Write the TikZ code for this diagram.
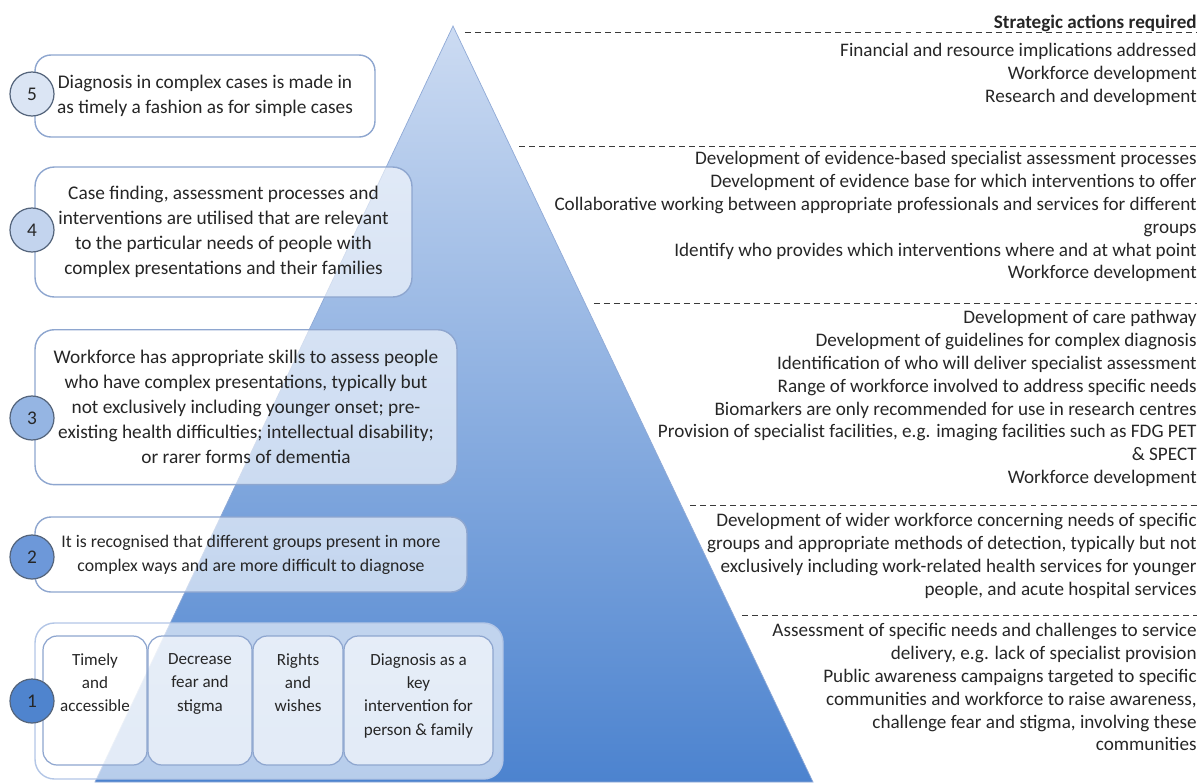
\documentclass[tikz,border=0pt]{standalone}
\usepackage{fontspec}
\setmainfont{Carlito}
\usetikzlibrary{positioning}
\definecolor{pyrtop}{HTML}{CCDBF2}
\definecolor{pyrmid}{HTML}{98B7E4}
\definecolor{pyrbot}{HTML}{4C83CF}
\definecolor{pyredge}{HTML}{8FA9D6}
\definecolor{boxedge}{HTML}{8EA6CF}
\definecolor{outeredge}{HTML}{B3C6E6}
\definecolor{circedge}{HTML}{55657C}
\definecolor{txt}{HTML}{262626}
\definecolor{dashgray}{HTML}{3A3A3A}
\definecolor{lvlfive}{HTML}{DBE5F4}
\definecolor{lvlfour}{HTML}{C3D4EE}
\definecolor{lvlthree}{HTML}{95B5E3}
\definecolor{lvltwo}{HTML}{6D98D9}
\definecolor{lvlone}{HTML}{4F84CE}
\tikzset{
	stage/.style={draw=boxedge, line width=0.8pt, rounded corners=9pt, fill=white, fill opacity=0.6, text opacity=1, align=center, text=txt, font=\fontsize{11}{14.2}\selectfont},
	cell/.style={draw=boxedge, line width=0.7pt, rounded corners=8pt, fill=white, fill opacity=0.6, minimum height=2.58cm},
	celltext/.style={anchor=north, align=center, inner sep=0pt, text=txt, font=\fontsize{9.7}{13.3}\selectfont},
	level/.style={circle, draw=circedge, line width=0.7pt, minimum size=0.88cm, inner sep=0pt, text=txt, font=\fontsize{11}{13}\selectfont},
	action/.style={anchor=north east, align=right, inner sep=0pt, text=txt, font=\fontsize{10.9}{13}\selectfont},
	divider/.style={draw=dashgray, line width=0.5pt, dash pattern=on 3.4pt off 2.3pt}
}
\begin{document}
\begin{tikzpicture}[x=0.02cm,y=-0.02cm]
		\useasboundingbox (0,0) rectangle (1200,782);
		\pgfmathsetmacro{\apexX}{453};
		\pgfmathsetmacro{\apexY}{26};
		\pgfmathsetmacro{\slope}{0.476};
		\shadedraw[top color=pyrtop, middle color=pyrmid, bottom color=pyrbot, draw=pyredge, line width=0.4pt]
			(\apexX,\apexY) -- (813,782) -- (95,782) -- cycle;
		\foreach \y in {32,146,303,505,615}
			\draw[divider] ({\apexX+\slope*(\y-\apexY)+9},\y) -- (1197,\y);
		\node[action, anchor=base east, font=\fontsize{10.9}{13}\selectfont\bfseries] (title) at (1197,28) {Strategic actions required};
		\node[action] (act5) at (1197,43) {Financial and resource implications addressed\\Workforce development\\Research and development};
		\node[action] (act4) at (1197,151) {Development of evidence-based specialist assessment processes\\Development of evidence base for which interventions to offer\\Collaborative working between appropriate professionals and services for different\\groups\\Identify who provides which interventions where and at what point\\Workforce development};
		\node[action] (act3) at (1197,310) {Development of care pathway\\Development of guidelines for complex diagnosis\\Identification of who will deliver specialist assessment\\Range of workforce involved to address specific needs\\Biomarkers are only recommended for use in research centres\\Provision of specialist facilities, e.g. imaging facilities such as FDG PET\\\& SPECT\\Workforce development};
		\node[action] (act2) at (1197,513) {Development of wider workforce concerning needs of specific\\groups and appropriate methods of detection, typically but not\\exclusively including work-related health services for younger\\people, and acute hospital services};
		\node[action] (act1) at (1197,623) {Assessment of specific needs and challenges to service\\delivery, e.g. lack of specialist provision\\Public awareness campaigns targeted to specific\\communities and workforce to raise awareness,\\challenge fear and stigma, involving these\\communities};
		\node[stage, minimum width=6.8cm, minimum height=1.64cm] (box5) at (205,96) {Diagnosis in complex cases is made in\\as timely a fashion as for simple cases};
		\node[stage, rounded corners=11pt, minimum width=7.54cm, minimum height=2.6cm] (box4) at (223.5,232) {Case finding, assessment processes and\\interventions are utilised that are relevant\\to the particular needs of people with\\complex presentations and their families};
		\node[stage, rounded corners=11pt, anchor=north, minimum width=8.44cm, minimum height=3.1cm] (box3) at (246,329) {Workforce has appropriate skills to assess people\\who have complex presentations, typically but\\not exclusively including younger onset; pre-\\existing health difficulties; intellectual disability;\\or rarer forms of dementia};
		\node[stage, font=\fontsize{10.1}{13.6}\selectfont, minimum width=8.64cm, minimum height=1.5cm] (box2) at (251,554.5) {It is recognised that different groups present in more\\complex ways and are more difficult to diagnose};
		\node[stage, draw=outeredge, rounded corners=11pt, minimum width=9.36cm, minimum height=3.12cm] (box1) at (269,701) {};
		\node[cell, minimum width=2.08cm] (cell1) at (95,700.5) {};
		\node[cell, minimum width=2.08cm] (cell2) at (200,700.5) {};
		\node[cell, minimum width=1.8cm] (cell3) at (298,700.5) {};
		\node[cell, minimum width=2.98cm] (cell4) at (418.5,700.5) {};
		\node[celltext] (text1) at (95,653) {Timely\\and\\accessible};
		\node[celltext] (text2) at (200,653) {Decrease\\fear and\\stigma};
		\node[celltext] (text3) at (298,653) {Rights\\and\\wishes};
		\node[celltext] (text4) at (418.5,653) {Diagnosis as a\\key\\intervention for\\person \& family};
		\node[level, fill=lvlfive] (lvl5) at (32,94) {5};
		\node[level, fill=lvlfour] (lvl4) at (32,230) {4};
		\node[level, fill=lvlthree] (lvl3) at (32,418) {3};
		\node[level, fill=lvltwo] (lvl2) at (32,557) {2};
		\node[level, fill=lvlone] (lvl1) at (32,701) {1};
	\end{tikzpicture}
\end{document}
